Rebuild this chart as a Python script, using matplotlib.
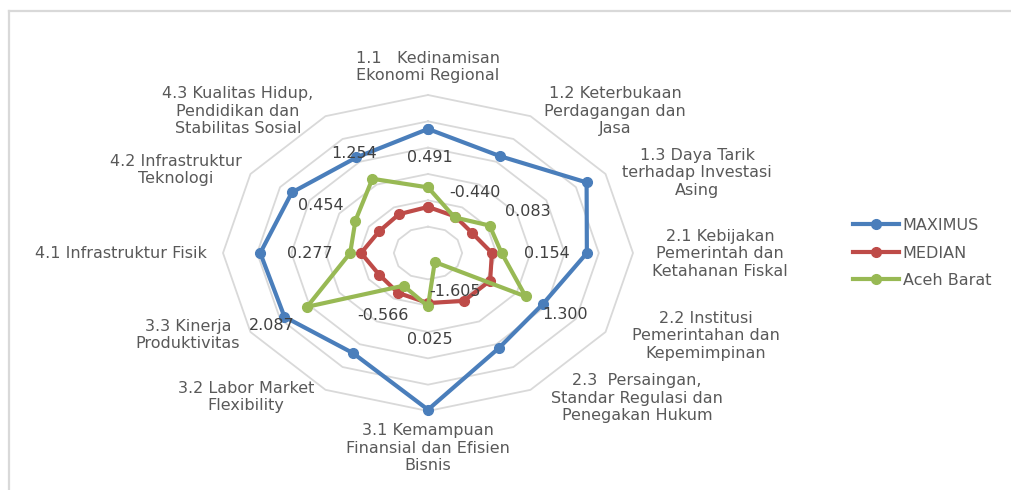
import numpy as np
import matplotlib
matplotlib.use("Agg")
import matplotlib.pyplot as plt
from matplotlib.lines import Line2D

# ---------------- data ----------------
categories = [
    "1.1   Kedinamisan\nEkonomi Regional",
    "1.2 Keterbukaan\nPerdagangan dan\nJasa",
    "1.3 Daya Tarik\nterhadap Investasi\nAsing",
    "2.1 Kebijakan\nPemerintah dan\nKetahanan Fiskal",
    "2.2 Institusi\nPemerintahan dan\nKepemimpinan",
    "2.3  Persaingan,\nStandar Regulasi dan\nPenegakan Hukum",
    "3.1 Kemampuan\nFinansial dan Efisien\nBisnis",
    "3.2 Labor Market\nFlexibility",
    "3.3 Kinerja\nProduktivitas",
    "4.1 Infrastruktur Fisik",
    "4.2 Infrastruktur\nTeknologi",
    "4.3 Kualitas Hidup,\nPendidikan dan\nStabilitas Sosial",
]
maximus = [2.71, 2.24, 3.36, 2.65, 1.88, 2.16, 3.95, 2.39, 2.85, 2.91, 2.60, 2.19]
median = [-0.25, -0.40, -0.50, -0.13, 0.10, 0.10, -0.10, -0.25, -0.35, -0.04, -0.35, -0.30]
aceh_barat = [0.491, -0.440, 0.083, 0.154, 1.300, -1.605, 0.025, -0.566, 2.087, 0.277, 0.454, 1.254]
series_names = ["MAXIMUS", "MEDIAN", "Aceh Barat"]
ring_values = [-1, 0, 1, 2, 3, 4]
r_min, r_max = -2, 4

# ---------------- layout (pixels of a 1011x490 canvas) ----------------
W, H = 1011, 490
def fx(x):
    return x / W
def fy(y):
    return 1 - y / H

cat_label_px = [(428, 67), (615, 111), (697, 173), (720, 254), (706, 336), (637, 398),
                (428, 448), (246, 397), (188, 335), (121, 253), (176, 170), (238, 111)]
val_label_px = [(430, 157), (475, 192), (528, 211), (547, 254), (565, 314), (455, 291),
                (430, 339), (383, 315), (272, 325), (310, 253), (321, 206), (354, 153)]

colors = ["#4A7EBB", "#BE4B48", "#98B954"]
grid_color = "#D9D9D9"
text_color = "#595959"
font = ["DejaVu Sans"]
fs = 11.5

plt.rcParams["font.family"] = font

fig = plt.figure(figsize=(W / 100, H / 100), dpi=100)
fig.patch.set_facecolor("white")

# frame lines (chart area border)
fig.add_artist(Line2D([fx(8.5), fx(8.5)], [fy(11.5), fy(490)], color=grid_color, lw=1.6))
fig.add_artist(Line2D([fx(8.5), fx(1011)], [fy(11.5), fy(11.5)], color=grid_color, lw=1.6))

left, right, top, bottom = 223, 633, 95, 411
ax = fig.add_axes([fx(left), fy(bottom), (right - left) / W, (bottom - top) / H],
                  projection="polar")
ax.set_aspect("auto")
ax.set_theta_zero_location("N")
ax.set_theta_direction(-1)
ax.set_ylim(r_min, r_max)
ax.grid(False)
ax.set_xticks([])
ax.set_yticks([])
ax.spines["polar"].set_visible(False)
ax.patch.set_alpha(0)

n = len(categories)
theta = np.linspace(0, 2 * np.pi, n, endpoint=False)
theta_c = np.append(theta, theta[0])

for rv in ring_values:
    ax.plot(theta_c, [rv] * (n + 1), color=grid_color, lw=1.3, zorder=1, clip_on=False)

for vals, name, col in zip([maximus, median, aceh_barat], series_names, colors):
    v = np.append(vals, vals[0])
    ax.plot(theta_c, v, color=col, lw=3.0, marker="o", markersize=7,
            label=name, zorder=3, clip_on=False)

for lab, (x, y) in zip(categories, cat_label_px):
    fig.text(fx(x), fy(y), lab, ha="center", va="center", fontsize=fs,
             color=text_color, linespacing=1.2, multialignment="center")

for val, (x, y) in zip(aceh_barat, val_label_px):
    fig.text(fx(x), fy(y), f"{val:.3f}", ha="center", va="center", fontsize=fs,
             color="#404040", zorder=5)

leg = fig.legend(loc="center left", bbox_to_anchor=(fx(853), fy(253)), frameon=False,
                 fontsize=fs, handlelength=2.9, handletextpad=0.2, labelspacing=0.78,
                 borderpad=0, borderaxespad=0)
for t in leg.get_texts():
    t.set_color(text_color)

fig.savefig("out.png", dpi=100, facecolor="white")
